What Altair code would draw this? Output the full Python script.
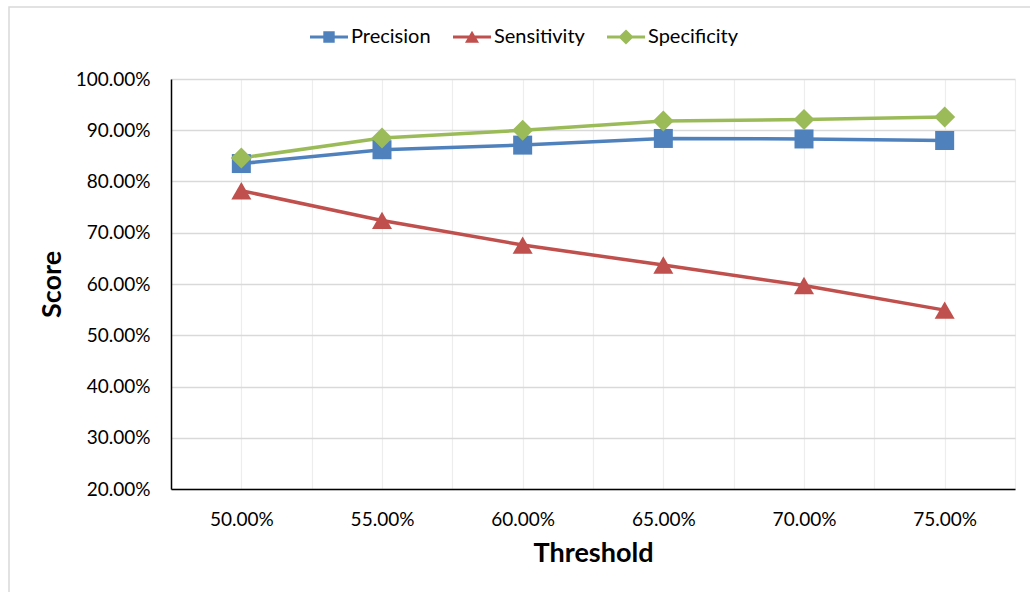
import altair as alt
import pandas as pd

# Classification scores at each decision threshold
thresholds = [0.50, 0.55, 0.60, 0.65, 0.70, 0.75]
precision = [0.835, 0.862, 0.871, 0.884, 0.883, 0.880]
sensitivity = [0.782, 0.724, 0.676, 0.637, 0.597, 0.549]
specificity = [0.846, 0.885, 0.900, 0.918, 0.921, 0.926]

series_names = ["Precision", "Sensitivity", "Specificity"]
series_colors = ["#4F81BD", "#C0504D", "#9BBB59"]
marker_shapes = ["square", "triangle-up", "diamond"]
marker_sizes = [361, 441, 484]

# Legend glyphs: a short line segment with the series marker on top
legend_glyphs = [
    "M-1,-0.08H1V0.08H-1Z M-0.3,-0.3H0.3V0.3H-0.3Z",
    "M-1,-0.08H1V0.08H-1Z M0,-0.33L0.37,0.3H-0.37Z",
    "M-1,-0.08H1V0.08H-1Z M0,-0.4L0.4,0L0,0.4L-0.4,0Z",
]

rows = []
for name, values in zip(series_names, [precision, sensitivity, specificity]):
    for t, v in zip(thresholds, values):
        rows.append({"Threshold": t, "Score": v, "Series": name})
df = pd.DataFrame(rows)

FONT = "Lato"
TEXT = "#000000"

# grid at every category centre and category boundary
x_grid_values = [round(0.475 + 0.025 * i, 3) for i in range(13)]
y_values = [round(0.2 + 0.1 * i, 1) for i in range(9)]

x_enc = alt.X(
    "Threshold:Q",
    scale=alt.Scale(domain=[0.475, 0.775], nice=False, zero=False),
    axis=alt.Axis(
        title="Threshold",
        values=x_grid_values,
        format=".2%",
        labelExpr="round(datum.value * 1000) % 50 == 0 ? datum.label : ''",
        labelPadding=21,
        labelFlush=False,
        labelOverlap=False,
        gridColor="#EDEDED",
        gridWidth=1.2,
        titlePadding=11,
    ),
)
y_enc = alt.Y(
    "Score:Q",
    scale=alt.Scale(domain=[0.2, 1.0], nice=False, zero=False),
    axis=alt.Axis(
        title="Score",
        values=y_values,
        format=".2%",
        labelPadding=21,
        gridColor="#D9D9D9",
        gridWidth=1.3,
        titlePadding=9,
    ),
)

color_scale = alt.Scale(domain=series_names, range=series_colors)

frame = alt.Chart(pd.DataFrame({"k": [0]})).mark_rect(
    fill="transparent", stroke="#D9D9D9", strokeWidth=1.5
).encode(
    x=alt.value(-162), x2=alt.value(880), y=alt.value(-72), y2=alt.value(530)
)

lines = alt.Chart(df).mark_line(strokeWidth=3.5).encode(
    x=x_enc,
    y=y_enc,
    color=alt.Color("Series:N", scale=color_scale, legend=None),
)

points = alt.Chart(df).mark_point(filled=True, opacity=1, strokeWidth=0).encode(
    x=x_enc,
    y=y_enc,
    color=alt.Color("Series:N", scale=color_scale, legend=None),
    shape=alt.Shape(
        "Series:N", scale=alt.Scale(domain=series_names, range=marker_shapes), legend=None
    ),
    size=alt.Size(
        "Series:N", scale=alt.Scale(domain=series_names, range=marker_sizes), legend=None
    ),
)

legend_def = alt.Legend(
    title=None,
    orient="none",
    direction="horizontal",
    legendX=139,
    legendY=-61,
    symbolSize=1444,
    symbolStrokeWidth=0,
    symbolOpacity=1,
    labelFont=FONT,
    labelFontSize=20,
    labelColor=TEXT,
    labelOffset=3,
    columnPadding=22,
    padding=0,
)

legend_layer = (
    alt.Chart(df)
    .transform_filter("false")
    .mark_point(filled=True, opacity=1, size=1444, strokeWidth=0)
    .encode(
        x=x_enc,
        y=y_enc,
        color=alt.Color("Series:N", scale=color_scale, legend=legend_def),
        shape=alt.Shape(
            "Series:N",
            scale=alt.Scale(domain=series_names, range=legend_glyphs),
            legend=legend_def,
        ),
    )
)

chart = (
    alt.layer(frame, lines, points, legend_layer)
    .resolve_scale(color="independent", shape="independent", size="independent")
    .properties(
        width=844,
        height=410,
        autosize=alt.AutoSizeParams(type="none"),
        padding={"left": 171, "top": 79, "right": 15, "bottom": 103},
        background="white",
    )
    .configure_view(strokeWidth=0)
    .configure_axis(
        labelFont=FONT,
        labelFontSize=19,
        labelColor=TEXT,
        titleFont=FONT,
        titleFontSize=27,
        titleFontWeight="bold",
        titleColor=TEXT,
        domainColor="#000000",
        domainWidth=1.5,
        ticks=False,
        tickSize=0,
    )
)

chart.save("out.html", embed_options={"renderer": "svg", "actions": False})
